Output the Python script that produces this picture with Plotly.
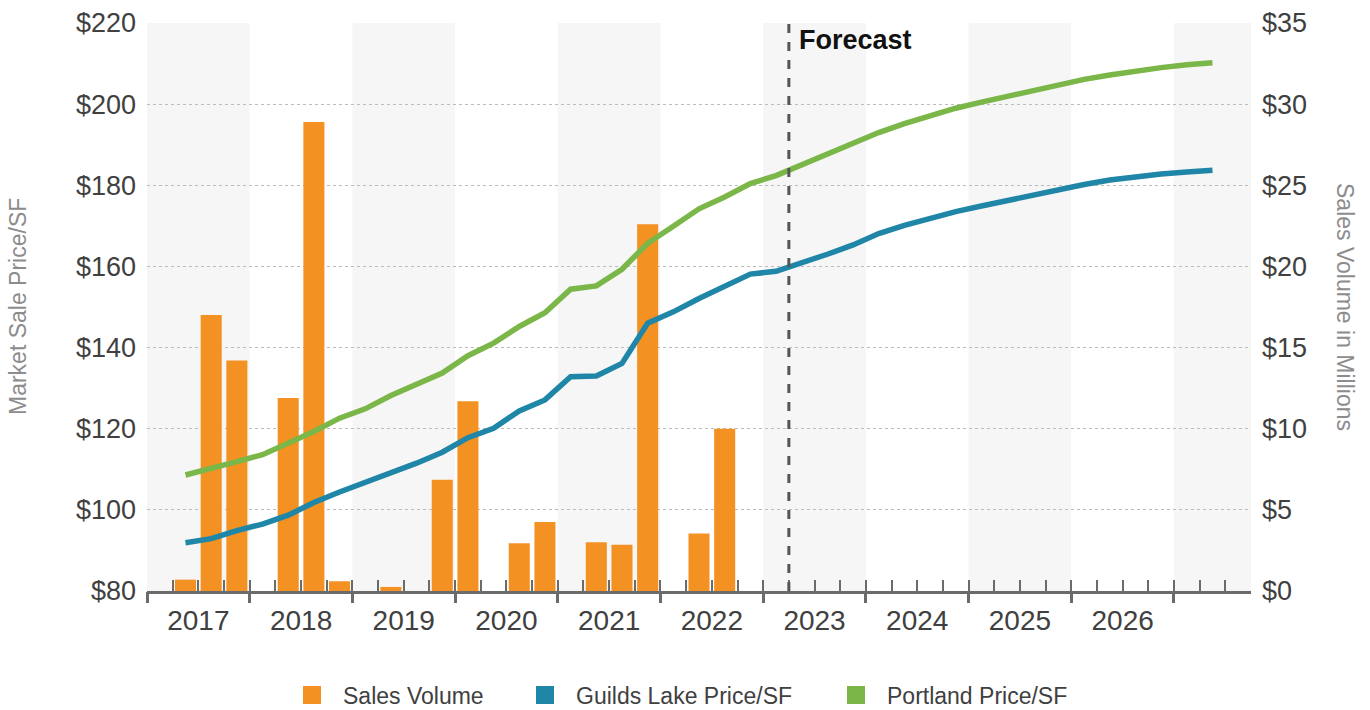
import plotly.graph_objects as go

# Quarterly series, 2017 Q1 .. 2027 Q3 (index 0 .. 42)
years = list(range(2017, 2028))
quarter_labels = [f"{y} Q{q}" for y in years for q in range(1, 5)][:43]
year_labels = [str(y) for y in range(2017, 2027)]

# Sales volume, $ millions, 2017 Q1 .. 2022 Q4
sales_volume = [0, 0.7, 17.0, 14.2,
                0, 11.9, 28.9, 0.6,
                0, 0.25, 0, 6.85,
                11.7, 0, 2.95, 4.25,
                0, 3.0, 2.85, 22.6,
                0, 3.55, 10.0, 0]

# Market sale price per SF, 2017 Q2 .. 2027 Q2
guilds_lake_price = [91.9, 92.9, 94.9, 96.5, 98.7, 101.8, 104.4, 106.7, 109.0, 111.5,
                     114.2, 117.8, 120.1, 124.4, 127.1, 132.8, 133.0, 136.1, 146.0, 148.8,
                     152.1, 155.0, 158.1, 158.8, 160.8, 163.0, 165.3, 168.1, 170.1, 171.9,
                     173.5, 174.9, 176.3, 177.6, 179.0, 180.2, 181.3, 182.1, 182.8, 183.3,
                     183.7]
portland_price = [108.6, 110.4, 111.9, 113.6, 116.3, 119.3, 122.6, 124.9, 128.2, 130.9,
                  133.7, 138.0, 141.1, 145.2, 148.6, 154.4, 155.2, 159.3, 165.7, 169.9,
                  174.2, 177.1, 180.4, 182.4, 185.0, 187.5, 190.3, 193.0, 195.2, 197.2,
                  199.0, 200.5, 201.9, 203.3, 204.8, 206.1, 207.2, 208.2, 209.0, 209.7,
                  210.2]

forecast_start = "2023 Q1"   # forecast begins after this quarter
price_start = "2017 Q2"

ORANGE = "#F39222"
BLUE = "#1F86A7"
GREEN = "#7AB648"
TEXT = "#404040"
AXIS = "#6B6B6B"
FONT = "Liberation Sans, Arial, sans-serif"

n_q = len(quarter_labels)
x_sales = list(range(len(sales_volume)))
p0 = quarter_labels.index(price_start)
x_price = list(range(p0, p0 + len(guilds_lake_price)))
year_centers = [4 * i + 1.5 for i in range(len(year_labels))]
year_bounds = [4 * i - 0.5 for i in range(len(years))]
quarter_bounds = [i - 0.5 for i in range(n_q + 1)]
x_range = [-0.5, n_q - 0.5]

fig = go.Figure()

# Bars on the volume axis (right), price lines on the price axis (left).
# Each line uses its own overlaid x axis (same range) which carries a tick layer.
fig.add_trace(go.Bar(x=x_sales, y=[v if v else None for v in sales_volume],
                     marker=dict(color=ORANGE, line=dict(width=0)), width=0.82,
                     xaxis="x", yaxis="y", name="Sales Volume", showlegend=False))
fig.add_trace(go.Scatter(x=x_price, y=guilds_lake_price, mode="lines",
                         line=dict(color=BLUE, width=5.5), xaxis="x2", yaxis="y2",
                         showlegend=False, name="Guilds Lake Price/SF"))
fig.add_trace(go.Scatter(x=x_price, y=portland_price, mode="lines",
                         line=dict(color=GREEN, width=5.5), xaxis="x3", yaxis="y2",
                         showlegend=False, name="Portland Price/SF"))

# Legend swatches (square keys), one legend box per entry
for name, col, lg in [("Sales Volume", ORANGE, "legend"),
                      ("Guilds Lake Price/SF", BLUE, "legend2"),
                      ("Portland Price/SF", GREEN, "legend3")]:
    fig.add_trace(go.Scatter(x=[None], y=[None], mode="markers", name=name,
                             marker=dict(symbol="square", size=16, color=col,
                                         line=dict(color=col, width=2)),
                             xaxis="x2", yaxis="y2", legend=lg))

# Alternating year bands
shapes = []
for i, b in enumerate(year_bounds):
    if i % 2 == 0:
        shapes.append(dict(type="rect", xref="x", yref="paper", x0=b, x1=min(b + 4, x_range[1]),
                           y0=0, y1=1, fillcolor="#F6F6F6", line=dict(width=0), layer="below"))
fx = quarter_labels.index(forecast_start) + 0.5
shapes.append(dict(type="line", xref="x", yref="paper", x0=fx, x1=fx, y0=0, y1=1,
                   line=dict(color="#555555", width=3, dash="dash"), layer="above"))

L, R, T, B = 147, 119, 23, 119
plot_w = 1370 - L - R


def px_to_paper(px):
    return (px - L) / plot_w


legend_common = dict(orientation="h", xanchor="left", y=-0.183, yanchor="middle",
                     font=dict(size=23, color=TEXT), itemsizing="trace", itemwidth=52,
                     bgcolor="rgba(0,0,0,0)", borderwidth=0)

fig.update_layout(
    width=1370, height=710,
    margin=dict(l=L, r=R, t=T, b=B, autoexpand=False),
    paper_bgcolor="white", plot_bgcolor="white",
    font=dict(family=FONT, color=TEXT),
    shapes=shapes,
    xaxis=dict(range=x_range, tickmode="array", tickvals=year_centers, ticktext=year_labels,
               ticks="", showgrid=False, zeroline=False, showline=True, linecolor=AXIS,
               linewidth=3, tickfont=dict(size=28, color=TEXT), ticklabelstandoff=2,
               anchor="y"),
    xaxis2=dict(range=x_range, overlaying="x", anchor="y2", tickmode="array",
                tickvals=year_bounds, ticks="outside", ticklen=11, tickwidth=3,
                tickcolor=AXIS, showticklabels=False, showgrid=False, zeroline=False,
                showline=False),
    xaxis3=dict(range=x_range, overlaying="x", anchor="y2", tickmode="array",
                tickvals=quarter_bounds, ticks="inside", ticklen=11, tickwidth=2,
                tickcolor=AXIS, showticklabels=False, showgrid=False, zeroline=False,
                showline=False),
    yaxis=dict(range=[0, 35], tickmode="linear", tick0=0, dtick=5, tickprefix="$",
               side="right", showgrid=False, zeroline=False, showline=False, ticks="",
               tickfont=dict(size=27, color=TEXT), ticklabelstandoff=10),
    yaxis2=dict(range=[80, 220], tickmode="linear", tick0=80, dtick=20, tickprefix="$",
                side="left", overlaying="y", showgrid=True, gridcolor="#BBBBBB",
                griddash="dot", gridwidth=1, zeroline=False, showline=False, ticks="",
                tickfont=dict(size=27, color=TEXT), ticklabelstandoff=10),
    legend=dict(legend_common, x=px_to_paper(281)),
    legend2=dict(legend_common, x=px_to_paper(514)),
    legend3=dict(legend_common, x=px_to_paper(825)),
    annotations=[
        dict(text="<b>Forecast</b>", xref="x", yref="paper", x=fx, y=1, xanchor="left",
             yanchor="top", xshift=8, yshift=0, showarrow=False,
             font=dict(size=27, color="#111111", family=FONT)),
        dict(text="Market Sale Price/SF", xref="paper", yref="paper", x=0, y=0.5,
             xanchor="center", yanchor="middle", textangle=-90, showarrow=False,
             xshift=18 - L, font=dict(size=23, color="#8C8C8C")),
        dict(text="Sales Volume in Millions", xref="paper", yref="paper", x=1, y=0.5,
             xanchor="center", yanchor="middle", textangle=90, showarrow=False,
             xshift=1345 - (1370 - R), font=dict(size=23, color="#8C8C8C")),
    ],
)

fig.write_html("out.html")
